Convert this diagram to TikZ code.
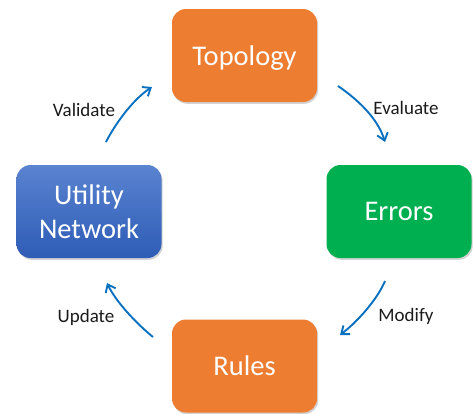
\documentclass[tikz,border=0pt]{standalone}
\usepackage{fontspec}
\setmainfont{Carlito}
\usetikzlibrary{arrows.meta,shadows}
\definecolor{orangebox}{HTML}{ED7D31}
\definecolor{greenbox}{HTML}{00B050}
\definecolor{bluetop}{HTML}{5A83D0}
\definecolor{bluebot}{HTML}{2E5CB6}
\definecolor{arrowblue}{HTML}{0A70C0}
\definecolor{labeltext}{HTML}{1A1A1A}
\tikzset{
  box/.style={rectangle, rounded corners=14pt, minimum width=145pt, minimum height=93pt,
    text=white, font=\fontsize{28.5}{34}\selectfont, align=center, inner sep=0pt,
    drop shadow={opacity=0.35, shadow xshift=1.2pt, shadow yshift=-1.8pt}},
  flow/.style={draw=arrowblue, line width=1.9pt, -{Straight Barb[length=7pt,width=11pt,line width=1.9pt]}},
  lbl/.style={text=labeltext, font=\fontsize{19}{22}\selectfont, inner sep=0pt}
}
\begin{document}
\begin{tikzpicture}[x=1pt,y=-1pt]
\useasboundingbox (0,0) rectangle (473,413);
\node[box, fill=orangebox] (topo) at (244.5,55.5) {\raisebox{0pt}[\height][0pt]{Topology}};
\node[box, fill=greenbox] (err) at (399,211.5) {Errors};
\node[box, top color=bluetop, bottom color=bluebot] (util) at (89,211.5) {Utility\\Network};
\node[box, fill=orangebox] (rules) at (244.5,366) {Rules};
\coordinate (va) at (106,142);
\coordinate (vb) at (152,87);
\coordinate (ea) at (338,86);
\coordinate (eb) at (385,142);
\coordinate (ma) at (385,281);
\coordinate (mb) at (340,335);
\coordinate (ua) at (153,337);
\coordinate (ub) at (107,283);
\draw[flow] (va) .. controls (114,126) and (132,100) .. (vb);
\draw[flow] (ea) .. controls (354,97) and (377,116) .. (eb);
\draw[flow] (ma) .. controls (377,300) and (357,322) .. (mb);
\draw[flow] (ua) .. controls (137,324) and (116,302) .. (ub);
\node[lbl] (lv) at (84,110) {Validate};
\node[lbl] (le) at (406,108) {Evaluate};
\node[lbl] (lm) at (406,316) {Modify};
\node[lbl] (lu) at (86,317) {Update};
\end{tikzpicture}
\end{document}
